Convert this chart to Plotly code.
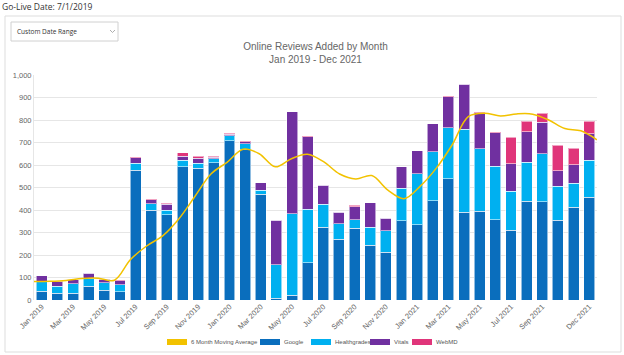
import plotly.graph_objects as go

months = ["Jan 2019", "Feb 2019", "Mar 2019", "Apr 2019", "May 2019", "Jun 2019",
          "Jul 2019", "Aug 2019", "Sep 2019", "Oct 2019", "Nov 2019", "Dec 2019",
          "Jan 2020", "Feb 2020", "Mar 2020", "Apr 2020", "May 2020", "Jun 2020",
          "Jul 2020", "Aug 2020", "Sep 2020", "Oct 2020", "Nov 2020", "Dec 2020",
          "Jan 2021", "Feb 2021", "Mar 2021", "Apr 2021", "May 2021", "Jun 2021",
          "Jul 2021", "Aug 2021", "Sep 2021", "Oct 2021", "Nov 2021", "Dec 2021"]

google = [40, 30, 30, 62, 44, 36, 576, 400, 379, 593, 585, 610,
          707, 668, 470, 7, 22, 166, 324, 270, 320, 244, 213, 352,
          334, 441, 539, 391, 394, 357, 311, 438, 437, 354, 412, 456]
healthgrades = [41, 32, 43, 34, 33, 31, 31, 28, 21, 28, 22, 18,
                22, 27, 17, 149, 362, 237, 101, 69, 36, 80, 94, 144,
                228, 217, 226, 368, 278, 237, 172, 174, 214, 151, 108, 165]
vitals = [26, 22, 17, 22, 15, 18, 25, 18, 26, 19, 23, 7,
          7, 9, 34, 198, 452, 323, 85, 52, 59, 109, 56, 97,
          102, 125, 138, 199, 160, 149, 123, 135, 139, 70, 82, 119]
webmd = [0, 0, 0, 0, 0, 4, 5, 4, 4, 15, 10, 3,
         5, 3, 0, 2, 0, 3, 0, 0, 6, 0, 0, 0,
         0, 0, 3, 0, 3, 4, 118, 48, 39, 113, 73, 55]
moving_avg = [82, 83, 87, 96, 97, 88, 180, 240, 285, 360, 460, 560,
              612, 670, 650, 592, 628, 648, 615, 560, 538, 553, 488, 450,
              505, 585, 690, 815, 830, 818, 827, 826, 800, 762, 752, 712]

tick_labels = ["Jan 2019", "Mar 2019", "May 2019", "Jul 2019", "Sep 2019", "Nov 2019",
               "Jan 2020", "Mar 2020", "May 2020", "Jul 2020", "Sep 2020", "Nov 2020",
               "Jan 2021", "Mar 2021", "May 2021", "Jul 2021", "Sep 2021", "Dec 2021"]
y_ticks = [0, 100, 200, 300, 400, 500, 600, 700, 800, 900, 1000]

series_names = ["6 Month Moving Average", "Google", "Healthgrades", "Vitals", "WebMD"]

C_GOOGLE = "#0a6ebd"
C_HG = "#00b0f0"
C_VITALS = "#7030a0"
C_WEBMD = "#e0357a"
C_MA = "#f2c200"
series_colors = [C_MA, C_GOOGLE, C_HG, C_VITALS, C_WEBMD]

W, H = 624, 355
ML, MR, MT, MB = 34, 27, 75, 55
PW = W - ML - MR
PH = H - MT - MB


def px(x):
    return (x - ML) / PW


def py(y):
    return (H - MB - y) / PH


fig = go.Figure()

bar_line = dict(color="rgba(255,255,255,0.55)", width=1)
for name, vals, col in [("Google", google, C_GOOGLE), ("Healthgrades", healthgrades, C_HG),
                        ("Vitals", vitals, C_VITALS), ("WebMD", webmd, C_WEBMD)]:
    fig.add_trace(go.Bar(x=months, y=vals, name=name, showlegend=False,
                         marker=dict(color=col, line=bar_line)))

fig.add_trace(go.Scatter(x=months, y=moving_avg, name="6 Month Moving Average",
                         mode="lines", line=dict(color=C_MA, width=1.5, shape="spline", smoothing=1.0),
                         xaxis="x2", showlegend=False))

tick_font = dict(family="Liberation Sans, Arial, sans-serif", size=7.5, color="#666666")

fig.update_layout(
    width=W, height=H,
    margin=dict(l=ML, r=MR, t=MT, b=MB, autoexpand=False),
    paper_bgcolor="white", plot_bgcolor="white",
    barmode="stack", bargap=0.3,
    font=dict(family="Liberation Sans, Arial, sans-serif", color="#666666"),
    title=dict(text="Online Reviews Added by Month<br>Jan 2019 - Dec 2021",
               x=0.5, xref="paper", xanchor="center",
               y=1 - 50 / H, yref="container", yanchor="top",
               font=dict(family="Liberation Sans, Arial, sans-serif", size=10, color="#666666")),
    xaxis=dict(type="category", categoryorder="array", categoryarray=months,
               range=[-0.5, 35.5], tickmode="array", tickvals=tick_labels, ticktext=tick_labels,
               tickangle=-45, tickfont=tick_font, showgrid=False, zeroline=False,
               showline=False, ticks="", automargin=False),
    xaxis2=dict(type="category", categoryorder="array", categoryarray=months,
                overlaying="x", range=[0, 35], visible=False, automargin=False),
    yaxis=dict(range=[0, 1000], tickmode="array", tickvals=y_ticks, tickformat=",",
               tickfont=tick_font, showgrid=True, gridcolor="#e6e6e6", gridwidth=1,
               zeroline=False, showline=True, linecolor="#e6e6e6", ticks="", automargin=False),
    yaxis2=dict(range=[0, 1000], overlaying="y", side="right", tickmode="array",
                tickvals=y_ticks, tickformat=",", tickfont=tick_font, showgrid=False,
                zeroline=False, showline=True, linecolor="#e6e6e6",
                ticks="outside", ticklen=4, tickcolor="#e6e6e6", automargin=False),
    showlegend=False,
)

# container frame and header controls
fig.add_shape(type="rect", xref="paper", yref="paper",
              x0=px(5), x1=px(621), y0=py(352), y1=py(16),
              line=dict(color="#dddddd", width=1), layer="below")
fig.add_shape(type="rect", xref="paper", yref="paper",
              x0=px(11), x1=px(118), y0=py(41), y1=py(22),
              line=dict(color="#d0d0d0", width=1), layer="below")
fig.add_shape(type="path", xref="paper", yref="paper",
              path=f"M {px(110)} {py(30)} L {px(112.5)} {py(32.5)} L {px(115)} {py(30)}",
              line=dict(color="#999999", width=0.8))

fig.add_annotation(text="Go-Live Date: 7/1/2019", xref="paper", yref="paper",
                   x=px(0), y=py(6.5), xanchor="left", yanchor="middle", showarrow=False,
                   font=dict(family="Open Sans, sans-serif", size=8.5, color="#333333"))
fig.add_annotation(text="Custom Date Range", xref="paper", yref="paper",
                   x=px(15), y=py(31.5), xanchor="left", yanchor="middle", showarrow=False,
                   font=dict(family="Open Sans, sans-serif", size=6.5, color="#333333"))

# legend (swatch rectangles + labels)
legend_swatch_x = [167, 260, 311, 370, 412]
legend_y = 342
for name, col, sx in zip(series_names, series_colors, legend_swatch_x):
    fig.add_shape(type="rect", xref="paper", yref="paper",
                  x0=px(sx), x1=px(sx + 20), y0=py(legend_y + 3), y1=py(legend_y - 3),
                  fillcolor=col, line=dict(width=0))
    fig.add_annotation(text=name, xref="paper", yref="paper",
                       x=px(sx + 22), y=py(legend_y), xanchor="left", yanchor="middle",
                       showarrow=False,
                       font=dict(family="Liberation Sans, Arial, sans-serif", size=6, color="#555555"))

fig.write_html("out.html", config={"displayModeBar": False},
               post_script="document.body.style.margin='0px';")
